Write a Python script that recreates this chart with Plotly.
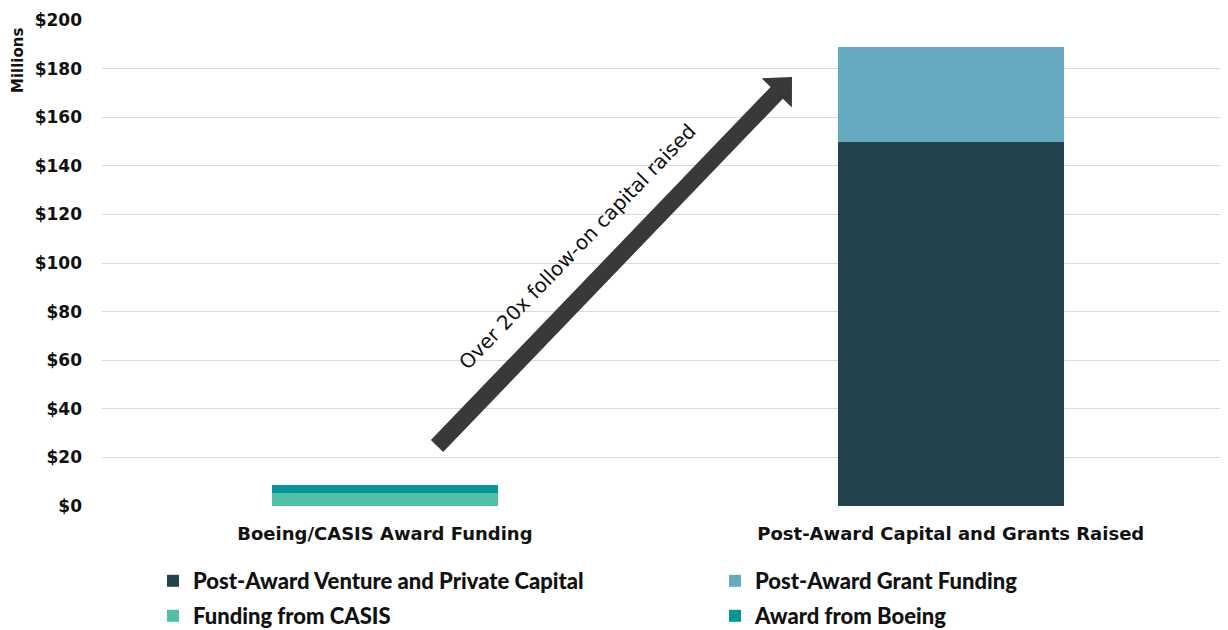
import math
import plotly.graph_objects as go

categories = ["Boeing/CASIS Award Funding", "Post-Award Capital and Grants Raised"]
venture = [0, 149.7]
grant = [0, 39.0]
casis = [5.5, 0]
boeing = [3.2, 0]
tick_vals = [0, 20, 40, 60, 80, 100, 120, 140, 160, 180, 200]

# page body has an 8px margin; figure drawn at (8, 8)
OFF = 8
W, H = 1220, 622
ML, MR, MT, MB = 94, 0, 12, 124
PW, PH = W - ML - MR, H - MT - MB

FONT = "DejaVu Sans"
LFONT = "Lato"

def px2paper(px, py):
    """page pixel -> paper coordinates"""
    px -= OFF
    py -= OFF
    return (px - ML) / PW, (H - MB - py) / PH

fig = go.Figure()
series = [
    ("Post-Award Venture and Private Capital", venture, "#23444F", "legend", (193, 581)),
    ("Post-Award Grant Funding", grant, "#66AAC1", "legend2", (755, 581)),
    ("Funding from CASIS", casis, "#50BFA9", "legend3", (193, 616)),
    ("Award from Boeing", boeing, "#00969B", "legend4", (755, 616)),
]
legend_layout = {}
for name, vals, col, lg, (tx_, ty_) in series:
    fig.add_trace(go.Bar(
        x=[0, 1], y=vals, name=name, marker=dict(color=col, line=dict(width=0)),
        width=0.4, legend=lg, hoverinfo="y+name",
    ))
    lx, ly = px2paper(tx_ - 40, ty_)
    legend_layout[lg] = dict(x=lx, y=ly, xanchor="left", yanchor="middle",
                             font=dict(family=LFONT, size=22, color="#111111", weight=900),
                             bgcolor="rgba(0,0,0,0)", itemclick=False, itemdoubleclick=False)

# arrow shape (page pixel geometry -> paper)
tail = (437, 446)
tip = (792, 77)
dx, dy = tip[0] - tail[0], tip[1] - tail[1]
L = math.hypot(dx, dy)
ux, uy = dx / L, dy / L
nx, ny = -uy, ux
hw = 8.5
head_len = 22
head_hw = 21
bx, by = tip[0] - ux * head_len, tip[1] - uy * head_len
pts = [
    (tail[0] + nx * hw, tail[1] + ny * hw),
    (bx + nx * hw, by + ny * hw),
    (bx + nx * head_hw, by + ny * head_hw),
    tip,
    (bx - nx * head_hw, by - ny * head_hw),
    (bx - nx * hw, by - ny * hw),
    (tail[0] - nx * hw, tail[1] - ny * hw),
]
ppts = [px2paper(*p) for p in pts]
path = "M " + " L ".join(f"{x:.5f},{y:.5f}" for x, y in ppts) + " Z"
fig.add_shape(type="path", path=path, xref="paper", yref="paper",
              fillcolor="#3A3938", line=dict(width=0))

angle = math.degrees(math.atan2(-dy, dx))
tx, ty = px2paper(577, 247)
fig.add_annotation(x=tx, y=ty, xref="paper", yref="paper", text="Over 20x follow-on capital raised",
                   showarrow=False, textangle=-angle,
                   font=dict(family=FONT, size=20, color="#111111"))

mx, my = px2paper(18, 61)
fig.add_annotation(x=mx, y=my, xref="paper", yref="paper", text="<b>Millions</b>",
                   showarrow=False, textangle=-90, xanchor="center", yanchor="middle",
                   font=dict(family=FONT, size=15, color="#111111"))

fig.update_layout(
    width=W, height=H,
    margin=dict(l=ML, r=MR, t=MT, b=MB, autoexpand=False),
    barmode="stack",
    plot_bgcolor="white", paper_bgcolor="white",
    font=dict(family=FONT, size=17, color="#111111"),
    xaxis=dict(
        tickmode="array", tickvals=[0, 1], ticktext=[f"<b>{c}</b>" for c in categories],
        range=[-0.5, 1.49], showgrid=False, showline=False, zeroline=False,
        tickfont=dict(family=FONT, size=18, color="#111111"), ticklabelstandoff=15,
    ),
    yaxis=dict(
        range=[0, 200], tickvals=tick_vals, ticktext=[f"<b>${v}</b>" for v in tick_vals],
        showgrid=True, gridcolor="#DADADA", gridwidth=1, zeroline=False, showline=False,
        tickfont=dict(family=FONT, size=17, color="#111111"), ticklabelstandoff=19,
    ),
    showlegend=True,
    **legend_layout,
)

fig.write_html("out.html")
